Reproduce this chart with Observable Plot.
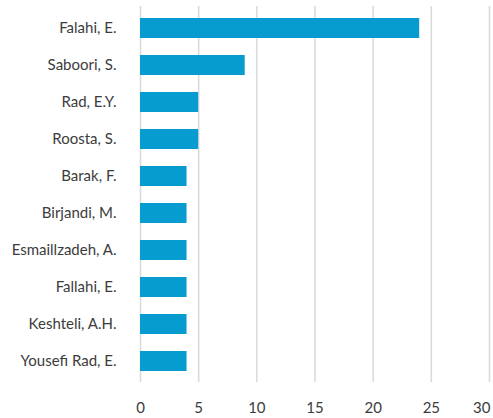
<!DOCTYPE html>
<html><head><meta charset="utf-8">
<script src="https://cdn.jsdelivr.net/npm/d3@7"></script>
<script src="https://cdn.jsdelivr.net/npm/@observablehq/plot@0.6"></script>
<style>
body{margin:0;background:#fff;}
svg{overflow:visible;}
</style>
</head><body>
<div id="chart"></div>
<script>
const authors = ["Falahi, E.","Saboori, S.","Rad, E.Y.","Roosta, S.","Barak, F.","Birjandi, M.","Esmaillzadeh, A.","Fallahi, E.","Keshteli, A.H.","Yousefi Rad, E."];
const counts = [24, 9, 5, 5, 4, 4, 4, 4, 4, 4];
const xTicks = [0, 5, 10, 15, 20, 25, 30];

const data = authors.map((a, i) => ({author: a, count: counts[i]}));
const lastTick = xTicks[xTicks.length - 1];

const chart = Plot.plot({
  width: 493,
  height: 418,
  marginLeft: 140,
  marginRight: 4,
  marginTop: 6,
  marginBottom: 36,
  style: {fontFamily: "Lato, 'Open Sans', sans-serif", fontSize: "15px", color: "#3c3c3c", background: "#fff"},
  x: {domain: [0, 30], ticks: xTicks, label: null, axis: null},
  y: {domain: authors, paddingInner: 0.47, paddingOuter: 0.24, label: null, axis: null},
  marks: [
    Plot.ruleX(xTicks, {x: d => d, stroke: "#d9d9d9", strokeWidth: 1.5}),
    Plot.barX(data, {x: "count", y: "author", fill: "#079ccf"}),
    Plot.axisY({tickSize: 0, tickPadding: 24, fontSize: 15, fill: "#3c3c3c"}),
    Plot.axisX({ticks: xTicks.slice(0, -1), tickSize: 0, tickPadding: 20, fontSize: 15, fill: "#3c3c3c"}),
    Plot.axisX({ticks: [lastTick], tickSize: 0, tickPadding: 20, fontSize: 15, fill: "#3c3c3c", textAnchor: "end", dx: 1})
  ]
});
document.getElementById("chart").appendChild(chart);
</script>
</body></html>
